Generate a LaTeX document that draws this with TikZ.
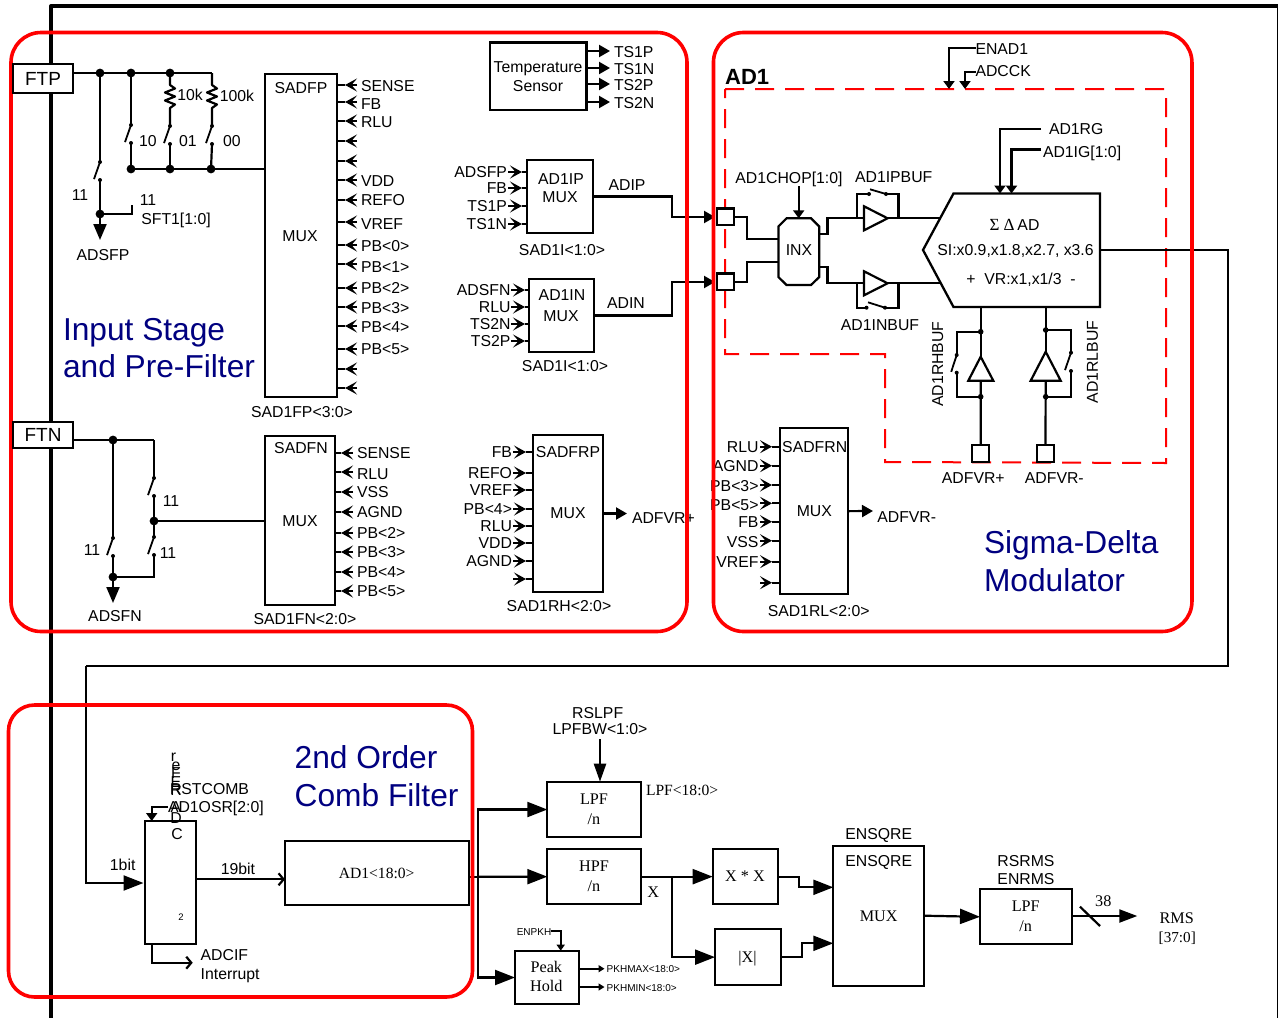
\documentclass[tikz,border=0pt]{standalone}
\usepackage{fontspec}
\setmainfont{Liberation Sans}
\newfontfamily\tmfont{Liberation Serif}
\usetikzlibrary{arrows.meta,calc}
\pgfdeclarelayer{redlayer}
\pgfdeclarelayer{toplayer}
\pgfsetlayers{main,redlayer,toplayer}
\definecolor{blueT}{HTML}{000080}
\tikzset{
  wire/.style={line width=2.2pt,line cap=butt,line join=miter},
  thinw/.style={line width=1.8pt},
  box/.style={draw,line width=2.3pt,inner sep=0pt,outer sep=0pt},
  txt/.style={inner sep=0pt,outer sep=0pt,text height=11pt,text depth=0pt,font=\fontsize{15.8}{18}\selectfont},
  stm/.style={inner sep=0pt,outer sep=0pt,text height=10.5pt,text depth=0pt,font=\tmfont\fontsize{16.2}{18}\selectfont},
  small/.style={txt,text height=7pt,font=\fontsize{10}{12}\selectfont},
  bluet/.style={inner sep=0pt,outer sep=0pt,anchor=west,text height=22pt,text depth=0pt,text=blueT,font=\fontsize{31.7}{36}\selectfont},
  region/.style={draw=red,line width=3.6pt,rounded corners=30pt,inner sep=0pt,outer sep=0pt},
  bigtip/.style={-{Triangle[length=20pt,width=15pt]}},
  vtip/.style={-{Triangle[length=16pt,width=13pt]}},
  medtip/.style={-{Triangle[length=11pt,width=12pt]}},
  smtip/.style={-{Triangle[length=8pt,width=11pt]}},
  tinytip/.style={-{Triangle[length=6pt,width=7pt]}},
  chev/.style={-{Straight Barb[length=5pt,width=12pt]}},
  pintip/.style={line width=1.8pt,-{Stealth[length=12pt,width=13pt,inset=5.5pt]}},
}
% box from corner coordinates
\newcommand{\bx}[6][]{%
  \pgfmathsetmacro\bxw{#5-#3}\pgfmathsetmacro\bxh{#6-#4}%
  \node[box,minimum width=\bxw pt,minimum height=\bxh pt,#1] (#2) at ({(#3+#5)/2},{(#4+#6)/2}) {};}
% inputs on the right side of a box: name, x of barbs, x of label, list y/ylabel/text
\newcommand{\pinsL}[5]{%
  \foreach \yp/\yl/\tx [count=\i] in {#5}{%
    \node[txt,anchor=west] (#1-l\i) at (#3,\yl) {\tx};
    \coordinate (#1-b\i) at (#2,\yp);
    \coordinate (#1-a\i) at (#4,\yp);
    \draw[pintip] (#1-b\i) -- (#1-a\i);
    \draw[thinw] (#1-a\i) -- (#1-a\i -| #1.east);
  }}
% inputs on the left side of a box
\newcommand{\pinsR}[5]{%
  \foreach \yp/\yl/\tx [count=\i] in {#5}{%
    \node[txt,anchor=east] (#1-l\i) at (#3,\yl) {\tx};
    \coordinate (#1-b\i) at (#2,\yp);
    \coordinate (#1-a\i) at (#4,\yp);
    \draw[pintip] (#1-b\i) -- (#1-a\i);
    \draw[thinw] (#1-a\i) -- (#1-a\i -| #1.west);
  }}
% vertical switch
\newcommand{\sw}[5]{%
  \coordinate (#1t) at (#2,#3);\coordinate (#1b) at (#2,#4);
  \fill (#1t) circle (2pt);\fill (#1b) circle (2pt);
  \draw[thinw] (#1t) -- ++(#5,{(#4-#3)*0.95});}
\newcommand{\bigdot}[1]{\fill #1 circle (4.4pt);}
\newcommand{\smdot}[1]{\fill #1 circle (2.8pt);}
\begin{document}
\begin{tikzpicture}[x=1pt,y=-1pt]
\useasboundingbox (0,0) rectangle (1278,1018);
\fill[white] (0,0) rectangle (1278,1018);
% outer frame
\draw[line width=4pt,line join=round] (51,1018) -- (51,6) -- (1278,6);
\draw[line width=0.8pt] (1277.3,6) -- (1277.3,1018);

% ---------- Input stage ----------
\begin{pgfonlayer}{toplayer}
\node[draw,fill=white,line width=1.6pt,inner sep=0pt,outer sep=0pt,minimum width=60pt,minimum height=29pt,font=\fontsize{19}{22}\selectfont] (ftp) at (43,78.5) {FTP};
\node[draw,fill=white,line width=1.6pt,inner sep=0pt,outer sep=0pt,minimum width=60pt,minimum height=26pt,font=\fontsize{19}{22}\selectfont] (ftn) at (43,435) {FTN};
\end{pgfonlayer}
\bx{sadfp}{265}{74}{337}{397}
\bx{sadfn}{265}{436}{335}{605}
\node[txt] (sadfpt) at (301,88) {SADFP};
\node[txt] (sadfpm) at (300,236) {MUX};
\node[txt] (sadfnt) at (301,448) {SADFN};
\node[txt] (sadfnm) at (300,521) {MUX};
\node[txt] (sad1fp) at (302,412) {SAD1FP<3:0>};
\node[txt] (sad1fn) at (305,619) {SAD1FN<2:0>};
\pinsL{sadfp}{357}{361}{345}{85/86/SENSE,102/104/FB,121/122/RLU,141/141/,161/161/,180/181/VDD,200/200/REFO,222/224/VREF,245/246/PB<0>,264/267/PB<1>,288/288/PB<2>,307/308/PB<3>,326/327/PB<4>,349/349/PB<5>,369/369/,388/388/}
\pinsL{sadfn}{353}{357}{341}{453/453/SENSE,472/474/RLU,492/492/VSS,512/512/AGND,533/533/PB<2>,552/552/PB<3>,572/572/PB<4>,591/591/PB<5>}

% FTP network
\coordinate (n1) at (100,73);\coordinate (n2) at (131,73);\coordinate (n3) at (170,73);\coordinate (n4) at (212,73);
\draw[wire] (ftp.east |- n1) -- (n4);
\sw{s1}{100}{162}{180}{-6}
\sw{s2}{131}{125}{143}{-6}
\sw{s3}{170}{126}{144}{-6}
\sw{s4}{212}{126}{144}{-6}
\coordinate (b2) at (131,169);\coordinate (b3) at (170,169);\coordinate (b4) at (211,169);
\draw[wire] (n1) -- (s1t);
\draw[wire] (n2) -- (s2t);
\draw[wire] (s2b) -- (b2);\draw[wire] (s3b) -- (b3);\draw[wire] (s4b) -- (b4);
\draw[wire] (b2) -- (b2 -| sadfp.west);
\draw[wire,line join=round] (n3) -- (170,85) -- (175,88.5) -- (165,92.5) -- (175,96.5) -- (165,100.5) -- (175,104.5) -- (170,108) -- (s3t);
\draw[wire,line join=round] (n4) -- (212,85) -- (217,88.5) -- (207,92.5) -- (217,96.5) -- (207,100.5) -- (217,104.5) -- (212,108) -- (s4t);
\coordinate (j1) at (100,214);\coordinate (j1a) at (100,240);\coordinate (j1b) at (132,205);
\draw[wire] (s1b) -- (j1);
\draw[wire,vtip] (j1) -- (j1a);
\draw[wire] (j1) -| (j1b);
\bigdot{(n1)}\bigdot{(n2)}\bigdot{(n3)}\bigdot{(j1)}\bigdot{(b2)}\bigdot{(b3)}\bigdot{(b4)}
\node[txt] (t10k) at (190,95) {10k};
\node[txt] (t100k) at (237,96) {100k};
\node[txt] (t10) at (148,141) {10};
\node[txt] (t01) at (188,141) {01};
\node[txt] (t00) at (232,141) {00};
\node[txt] (t11a) at (80,195) {11};
\node[txt] (t11b) at (148,200) {11};
\node[txt] (tsft) at (176,219) {SFT1[1:0]};
\node[txt] (tadsfp) at (103,255) {ADSFP};
\node[bluet] (tin1) at (63,329) {Input Stage};
\node[bluet] (tin2) at (63,366) {and Pre-Filter};

% FTN network
\coordinate (f1) at (113,440);\coordinate (f2) at (154,440);
\draw[wire] (ftn.east |- f1) -- (f2);
\sw{s5}{154}{478}{496}{-6}
\sw{s6}{154}{537}{555}{-6}
\sw{s7}{113}{538}{556}{-6}
\coordinate (f3) at (154,521);\coordinate (f4) at (113,577);\coordinate (f5) at (113,603);
\draw[wire] (f2) -- (s5t);
\draw[wire] (s5b) -- (f3);
\draw[wire] (f3) -- (s6t);
\draw[wire] (f1) -- (s7t);
\draw[wire] (s7b) -- (f4);
\draw[wire,vtip] (f4) -- (f5);
\draw[wire] (f4) -| (s6b);
\draw[wire] (f3) -- (f3 -| sadfn.west);
\bigdot{(f1)}\bigdot{(f3)}\bigdot{(f4)}
\node[txt] (t11c) at (171,501) {11};
\node[txt] (t11d) at (168,553) {11};
\node[txt] (t11e) at (92,550) {11};
\node[txt] (tadsfn) at (115,616) {ADSFN};

% Temperature sensor
\bx{temp}{490}{42.5}{586.5}{110}
\node[txt] (tt1) at (538,67) {Temperature};
\node[txt] (tt2) at (538,86) {Sensor};
\foreach \yy/\tx in {51/TS1P,68/TS1N,84/TS2P,102/TS2N}{
  \coordinate (o\tx) at (610,\yy);
  \draw[wire,medtip] (o\tx -| temp.east) -- (o\tx);
  \node[txt,anchor=west] (l\tx) at (614,\yy+0.5) {\tx};
}

% AD1IP / AD1IN mux
\bx{ipm}{527}{160}{593}{233}
\bx{inm}{529}{279}{594}{352}
\node[txt] (ipt) at (561,179) {AD1IP};
\node[txt] (ipx) at (560,197) {MUX};
\node[txt] (int) at (562,295) {AD1IN};
\node[txt] (inx2) at (561,316) {MUX};
\pinsR{ipm}{508}{507}{522}{172/172/ADSFP,188/188/FB,206/206/TS1P,224/224/TS1N}
\pinsR{inm}{511}{510.5}{525}{290/290/ADSFN,307/307/RLU,324/324/TS2N,341/341/TS2P}
\node[txt] (adipt) at (627,185) {ADIP};
\node[txt] (adint) at (626,303) {ADIN};
\node[txt] (sad1ia) at (562,250) {SAD1I<1:0>};
\node[txt] (sad1ib) at (565,366) {SAD1I<1:0>};

% SADFRP mux
\bx{frp}{533}{435}{603}{592}
\node[txt] (frpt) at (568,452) {SADFRP};
\node[txt] (frpm) at (568,513) {MUX};
\pinsR{frp}{513}{512}{526}{452/452/FB,473/473/REFO,490/490/VREF,509/509/PB<4>,526/526/RLU,543/543/VDD,561/561/AGND,579/579/}
\coordinate (frpo) at (627,513.5);
\draw[wire,medtip] (frp.east) -- (frpo);
\node[txt,anchor=west] (frpl) at (632,518) {ADFVR+};
\node[txt] (sad1rh) at (559,606) {SAD1RH<2:0>};

% ---------- Sigma-delta ----------
\node[font=\bfseries\fontsize{22}{26}\selectfont,inner sep=0pt,text height=16pt,text depth=0pt,anchor=west] (ad1t) at (725,76) {AD1};
\draw[red,line width=2pt,dash pattern=on 19pt off 11pt] (725,89) -- (1166,89) -- (1166,463) -- (885,462) -- (885,354) -- (725,354) -- cycle;
\node[txt,anchor=west] (enad) at (975.5,48.5) {ENAD1};
\node[txt,anchor=west] (adcck) at (975.5,71) {ADCCK};
\coordinate (enadc) at (949,89);\coordinate (adcckc) at (965,89);
\draw[wire,smtip] (enad.west |- 0,48) -| (enadc);
\draw[wire,smtip] (adcck.west |- 0,72) -| (adcckc);

\coordinate (sdtl) at (953.5,193.5);\coordinate (sdtr) at (1100,193.5);\coordinate (sdbr) at (1100,307);\coordinate (sdbl) at (953.5,307);\coordinate (sdt) at (923,250);
\draw[line width=2.3pt] (sdtl) -- (sdtr) -- (sdbr) -- (sdbl) -- (sdt) -- cycle;
\node[txt] (sd1) at (1014.5,225) {{\tmfont\fontsize{17}{18}\selectfont Σ\ Δ\,}AD};
\node[txt] (sd2) at (1015.5,250) {SI:x0.9,x1.8,x2.7, x3.6};
\node[txt] (sd3) at (1021,279) {+\ \ VR:x1,x1/3\ \ -};
\node[txt,anchor=west] (ad1rg) at (1049,128.5) {AD1RG};
\node[txt,anchor=west] (ad1ig) at (1043,151.5) {AD1IG[1:0]};
\coordinate (rgc) at (1000,193.5);\coordinate (igc) at (1011.5,193.5);
\draw[wire,smtip] (1041,129) -| (rgc);
\draw[wire,smtip] (1041,149.5) -| (igc);

\bx[fill=white]{sq1}{717}{208.5}{734}{225}
\bx[fill=white]{sq2}{717}{273.5}{734}{290}
\coordinate (ipin) at (715,217);\coordinate (inin) at (715,282);
\draw[wire,medtip] (ipm.east) -- (672,196.5) -- (672,217) -- (ipin);
\draw[wire,medtip] (inm.east) -- (672,315.5) -- (672,282) -- (inin);

% INX
\draw[line width=2.2pt] (786.5,218.3) -- (811,218.3) -- (819.3,226.5) -- (819.3,277) -- (811,285) -- (786.5,285) -- (778.4,277) -- (778.4,226.5) -- cycle;
\node[txt] (inxl) at (799,250) {INX};
\node[txt] (chop) at (789,178) {AD1CHOP[1:0]};
\coordinate (chopa) at (798.7,186);\coordinate (chopb) at (798.7,218.3);
\draw[wire,smtip] (chopa) -- (chopb);
\draw[wire] (sq1.east) -| (747.3,239.3) -- (778.4,239.3);
\draw[wire] (sq2.east) -| (747.3,261.7) -- (778.4,261.7);
% buffers
\coordinate (bua) at (864,218.3);\coordinate (bub) at (887.6,218.3);
\coordinate (bla) at (864,283.3);\coordinate (blb) at (887.6,283.3);
\draw[line width=2.2pt,fill=white] (864,206.3) -- (bub) -- (864,230.3) -- cycle;
\draw[line width=2.2pt,fill=white] (864,271.3) -- (blb) -- (864,295.3) -- cycle;
\draw[wire] (819.3,234) -- (827.4,234) |- (bua);
\draw[wire] (819.3,267.3) -- (827.4,267.3) |- (bla);
\draw[wire] (bub) -- (940,218.3);
\draw[wire] (blb) -- (941,283.3);
\draw[wire] (857,218.3) -- (857,194) -- (869,194);
\draw[wire] (886,194) -- (898.4,194) -- (898.4,218.3);
\draw[thinw] (870,189.3) -- (886,194);
\fill (869,194) circle (2pt);\fill (886,194) circle (2pt);
\draw[wire] (857,283.3) -- (857,307.7) -- (866.5,307.7);
\draw[wire] (885,307.7) -- (898.4,307.7) -- (898.4,283.3);
\draw[thinw] (868,302.3) -- (885,307.7);
\fill (866.5,307.7) circle (2pt);\fill (885,307.7) circle (2pt);
\node[txt] (ipbuf) at (893.7,177) {AD1IPBUF};
\node[txt] (inbuf) at (880,325) {AD1INBUF};

% reference buffers
\bx[fill=white]{sqh}{972}{445}{989.3}{462.3}
\bx[fill=white]{sql}{1036.7}{445}{1054.3}{462.3}
\coordinate (hs) at (980.7,307);\coordinate (ls) at (1045.7,307);
\coordinate (hd) at (980.7,331.7);\coordinate (hu) at (980.7,396.7);
\coordinate (ld) at (1045.7,330);\coordinate (lu) at (1045.7,396.7);
\sw{s8}{956.7}{355}{372.7}{-5.5}
\sw{s9}{1071}{352.7}{371}{-6}
\draw[wire] (hs) -- (980.7,356.7);
\draw[line width=2.2pt,fill=white] (980.7,356.7) -- (993.3,380.7) -- (968.3,380.7) -- cycle;
\draw[wire] (980.7,380.7) -- (sqh.north);
\draw[wire] (hd) -| (s8t);
\draw[wire] (s8b) |- (hu);
\draw[wire] (ls) -- (1045.7,351.7);
\draw[line width=2.2pt,fill=white] (1045.7,351.7) -- (1060.7,380.7) -- (1030.7,380.7) -- cycle;
\draw[wire] (1045.7,380.7) -- (sql.north);
\draw[wire] (ld) -| (s9t);
\draw[wire] (s9b) |- (lu);
\smdot{(hd)}\smdot{(hu)}\smdot{(ld)}\smdot{(lu)}
\node[txt,rotate=90] (rhbuf) at (937.7,364) {AD1RHBUF};
\node[txt,rotate=90] (rlbuf) at (1092.3,362) {AD1RLBUF};
\node[txt] (advp) at (973.3,478) {ADFVR+};
\node[txt] (advm) at (1054.3,478) {ADFVR-};

% SADFRN mux
\bx{frn}{780}{428.3}{848.3}{594}
\node[txt] (frnt) at (814.7,446.7) {SADFRN};
\node[txt] (frnm) at (814.3,510.7) {MUX};
\pinsR{frn}{760}{758.5}{772}{446.7/447/RLU,465.7/466/AGND,485/486/PB<3>,503.3/505/PB<5>,521.7/522/FB,540.7/542/VSS,561.7/562/VREF,582.7/582.7/}
\coordinate (frno) at (873,511);
\draw[wire,medtip] (frn.east) -- (frno);
\node[txt,anchor=west] (frnl) at (877.3,516.7) {ADFVR-};
\node[txt] (sad1rl) at (818.7,610.7) {SAD1RL<2:0>};
\node[bluet] (tsd1) at (984,542.7) {Sigma-Delta};
\node[bluet] (tsd2) at (984,580) {Modulator};

% ---------- Comb filter ----------
\bx{comb}{144.7}{821}{195.7}{944.3}
\bx{ad1reg}{285}{841.3}{469.3}{904.7}
\coordinate (c1) at (1228,250);\coordinate (c2) at (85.7,666);\coordinate (c3) at (143.5,883);
\draw[wire] (sdbr |- sdt) -- (c1) |- (c2);
\draw[wire,bigtip] (c2) |- (c3);
\node[txt] (t1bit) at (122.7,865) {1bit};
\node[txt] (t19bit) at (238,869) {19bit};
\coordinate (c4) at (285,879.3);
\draw[wire,chev] (comb.east |- c4) -- (c4);
\node[stm,text height=10pt,font=\tmfont\fontsize{15.6}{18}\selectfont] (ad1regt) at (376.7,873) {AD1<18:0>};
\foreach \yy/\xx/\tx [count=\i] in {757/173.5/r,766/176/e,773/176/F,782/176/E,790/176/R,807/176/A,818/176/D,834/177/C}{
  \node[inner sep=0pt,outer sep=0pt,font=\fontsize{15.8}{18}\selectfont] (st\i) at (\xx,\yy) {\tx};
}
\node[txt,anchor=west] (rstc) at (170,789) {RSTCOMB};
\node[txt,anchor=west] (osr) at (168,806.7) {AD1OSR[2:0]};
\coordinate (osrc) at (151.7,821);
\draw[wire,smtip] (osr.west) -| (osrc);
\node[inner sep=0pt,outer sep=0pt,font=\fontsize{9.5}{10}\selectfont] (two) at (181,917) {2};
\coordinate (cif) at (192.7,962.7);
\draw[wire,chev] (151.7,944.3) |- (cif);
\node[txt,anchor=west] (adcif) at (200.7,955) {ADCIF};
\node[txt,anchor=west] (adint2) at (200.7,974) {Interrupt};
\node[bluet] (tcf1) at (294.7,757) {2nd Order};
\node[bluet] (tcf2) at (294.7,795) {Comb Filter};

% ---------- Back end ----------
\bx{lpf}{547.3}{781.7}{640.7}{837.3}
\bx{hpf}{547.3}{849}{640.7}{904.3}
\bx{peak}{515}{950.7}{578.7}{1004.3}
\bx{xx}{712.7}{849}{778.3}{904.3}
\bx{absx}{715}{929.3}{780.7}{985}
\bx{mux}{833.3}{845.7}{924.3}{985.7}
\bx{rmslpf}{980}{889.3}{1072.3}{944.3}
\coordinate (bus) at (478.3,876.7);
\draw[wire] (ad1reg.east |- bus) -- (bus);
\draw[wire,bigtip] (bus) -- (hpf.west);
\draw[wire,bigtip] (bus) |- (lpf.west);
\draw[wire,bigtip] (bus) |- (peak.west);
\node[stm] (lpft) at (594,799.3) {LPF};
\node[stm] (lpfn) at (594,819.3) {/n};
\node[stm] (hpft) at (594,866.7) {HPF};
\node[stm] (hpfn) at (594,886) {/n};
\node[txt] (rslpf) at (597.7,713.3) {RSLPF};
\node[txt] (lpfbw) at (600,728.7) {LPFBW<1:0>};
\coordinate (lpfa) at (600,739.3);
\draw[wire,line width=2.4pt,-{Triangle[length=18pt,width=12pt]}] (lpfa) -- (lpfa |- lpf.north);
\node[stm,anchor=west,font=\tmfont\fontsize{15.6}{18}\selectfont] (lpfo) at (646,790) {LPF<18:0>};
\draw[wire,bigtip] (hpf.east) -- (xx.west);
\coordinate (xbr) at (672.3,876.7);
\draw[wire,bigtip] (xbr) |- (absx.west);
\node[stm] (xl) at (653.3,892.7) {X};
\node[stm] (xxt) at (745,876.7) {X * X};
\node[stm] (absxt) at (747.5,957) {|X|};
\node[txt] (ens1) at (878.7,834.3) {ENSQRE};
\node[txt] (ens2) at (878.7,860.7) {ENSQRE};
\node[stm] (muxt) at (878.7,916) {MUX};
\coordinate (mi1) at (833.3,887.3);\coordinate (mi2) at (833.3,943.3);
\draw[wire,bigtip] (xx.east) -- ++(21,0) |- (mi1);
\draw[wire,bigtip] (absx.east) -- ++(21,0) |- (mi2);
\node[stm] (peakt) at (546.3,967.7) {Peak};
\node[stm] (holdt) at (546.3,986.7) {Hold};
\node[small] (enpkh) at (534,932.3) {ENPKH};
\coordinate (enpkhc) at (560.7,950.7);
\draw[thinw,-{Triangle[length=6pt,width=8pt]}] (enpkh.east |- 0,931) -| (enpkhc);
\node[small,anchor=west] (pkmax) at (606.7,969.3) {PKHMAX<18:0>};
\node[small,anchor=west] (pkmin) at (606.7,988.3) {PKHMIN<18:0>};
\coordinate (pka) at (604.5,968.7);\coordinate (pkb) at (604.5,987);
\draw[thinw,tinytip] (pka -| peak.east) -- (pka);
\draw[thinw,tinytip] (pkb -| peak.east) -- (pkb);
\draw[wire,bigtip] (mux.east) -- (rmslpf.west);
\node[txt] (rsrms) at (1026,860.7) {RSRMS};
\node[txt] (enrms) at (1026,879.3) {ENRMS};
\node[stm] (rl) at (1025.7,906.7) {LPF};
\node[stm] (rn) at (1025.7,926.7) {/n};
\coordinate (rmso) at (1137.3,916);
\draw[wire,-{Triangle[length=18pt,width=13pt]}] (rmslpf.east |- rmso) -- (rmso);
\draw[wire] (1080,906.7) -- (1100,926);
\node[stm] (t38) at (1103.3,901) {38};
\node[stm] (trms) at (1176.7,918.3) {RMS};
\node[stm,font=\tmfont\fontsize{15.2}{18}\selectfont] (trmsb) at (1177.3,937.7) {[37:0]};

% ---------- Red regions ----------
\begin{pgfonlayer}{redlayer}
\node[region,minimum width=676pt,minimum height=599pt] (r1) at (349,332) {};
\node[region,minimum width=478.5pt,minimum height=599pt] (r2) at (952.7,332) {};
\node[region,minimum width=464pt,minimum height=292pt,rounded corners=26pt] (r3) at (240.5,851) {};
\end{pgfonlayer}
\end{tikzpicture}
\end{document}
